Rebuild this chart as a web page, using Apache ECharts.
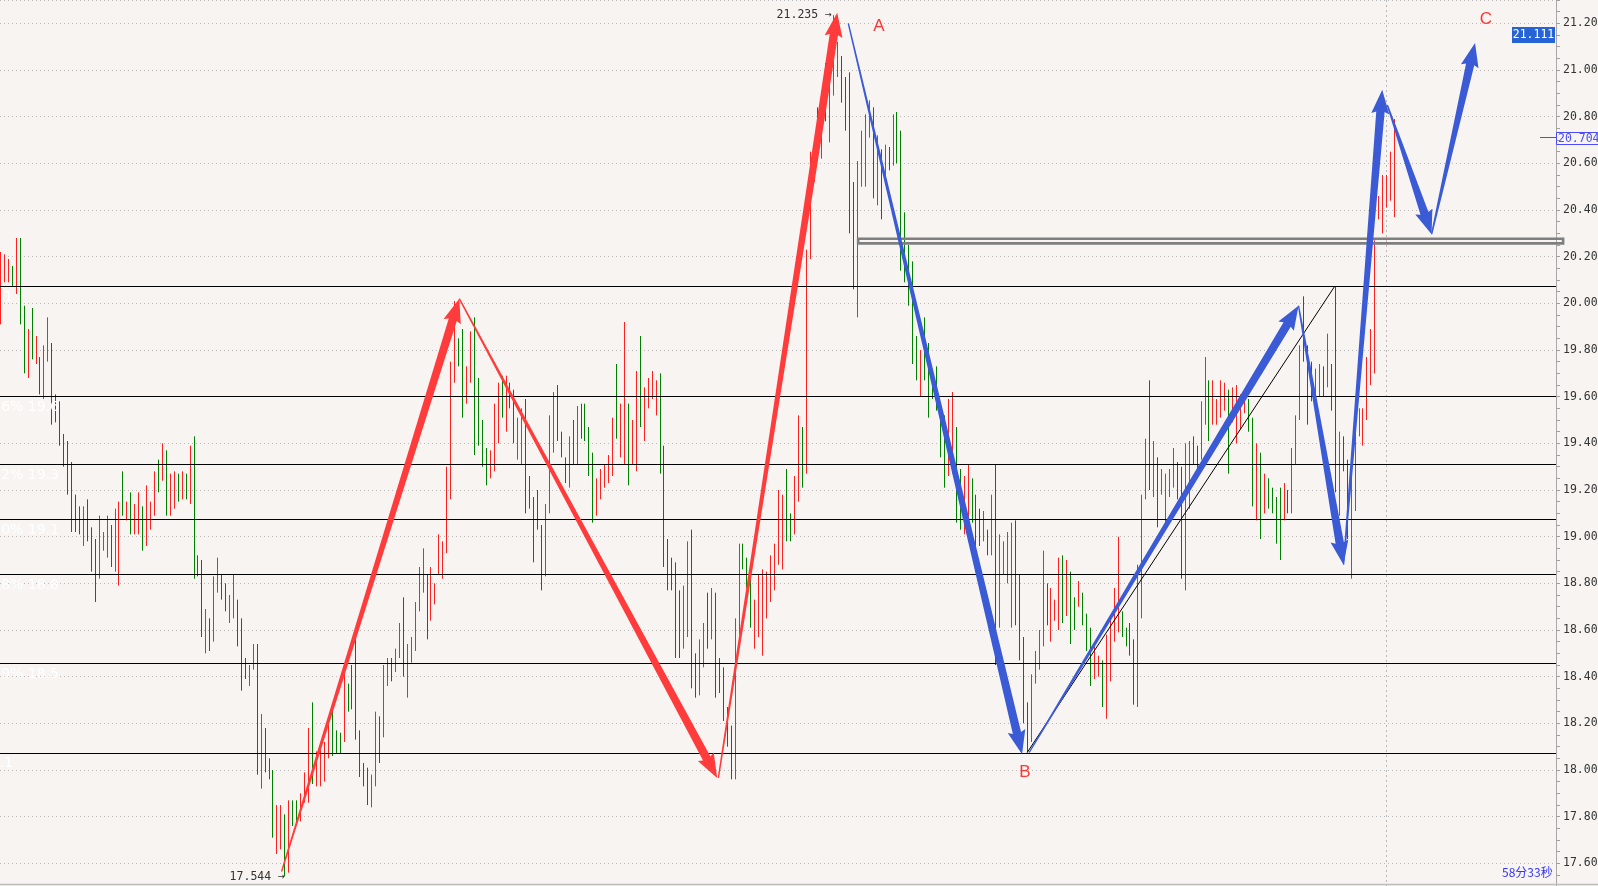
<!DOCTYPE html>
<html><head><meta charset="utf-8">
<script src="https://cdn.jsdelivr.net/npm/echarts@6/dist/echarts.min.js"></script>
<style>html,body{margin:0;padding:0;background:#f7f4f1;overflow:hidden}#c{width:1598px;height:886px}</style>
</head><body><div id="c"></div>
<script>
// ---- bar data (high / low / direction r=up red, g=down green), one bar per slot ----
const highs = [
20.22,20.21,20.19,20.16,20.28,20.28,19.99,19.89,19.98,19.86,
19.77,19.82,19.94,19.83,19.61,19.58,19.44,19.41,19.32,19.18,
19.13,19.13,19.16,19.04,18.99,19.09,19.02,19.09,19.05,19.12,
19.15,19.28,19.15,19.19,19.14,19.19,19.13,19.22,19.15,19.28,
19.33,19.40,19.37,19.27,19.28,19.27,19.28,19.27,19.39,19.43,
18.92,18.90,18.69,18.65,18.83,18.91,18.84,18.80,18.75,18.84,
18.73,18.65,18.48,18.45,18.54,18.54,18.24,18.18,18.05,18.00,
17.85,17.85,17.81,17.87,17.87,17.87,17.90,17.99,18.18,18.29,
18.08,18.09,18.12,18.20,18.26,18.17,18.16,18.45,18.37,18.45,
18.57,18.17,18.03,18.01,17.98,18.25,18.23,18.45,18.48,18.48,
18.52,18.63,18.74,18.54,18.57,18.72,18.87,18.95,18.84,18.87,
18.80,19.01,18.98,19.30,19.75,20.01,19.85,19.89,19.73,19.88,
19.94,19.68,19.50,19.38,19.37,19.57,19.66,19.69,19.69,19.66,
19.63,19.51,19.55,19.59,19.26,19.17,19.20,19.05,19.14,19.52,
19.62,19.65,19.45,19.34,19.43,19.50,19.56,19.57,19.57,19.47,
19.36,19.25,19.29,19.31,19.35,19.51,19.74,19.57,19.92,19.57,
19.50,19.71,19.86,19.64,19.68,19.71,19.67,19.70,19.39,18.99,
18.91,18.89,18.77,18.79,18.98,19.03,18.50,18.56,18.63,18.76,
18.78,18.76,18.48,18.44,18.27,18.19,18.65,18.97,18.97,18.91,
18.82,18.73,18.84,18.86,18.85,18.92,18.97,19.20,19.18,19.29,
19.10,19.26,19.52,19.47,20.23,20.65,20.71,20.84,20.91,21.03,
21.06,21.235,21.12,21.06,20.97,20.99,20.52,20.61,20.74,20.81,
20.87,20.84,20.72,20.66,20.68,20.67,20.81,20.82,20.74,20.39,
20.25,20.18,19.86,19.80,19.94,19.83,19.67,19.73,19.57,19.52,
19.59,19.62,19.47,19.29,19.26,19.31,19.25,19.18,19.12,19.11,
19.03,19.18,19.31,19.01,18.98,19.02,19.06,19.07,18.84,18.57,
18.29,18.41,18.51,18.60,18.94,18.80,18.78,18.73,18.91,18.92,
18.90,18.85,18.74,18.81,18.76,18.67,18.61,18.54,18.49,18.47,
18.58,18.65,18.78,19.00,18.68,18.61,18.63,18.56,18.88,19.18,
19.42,19.67,19.41,19.34,19.29,19.27,19.29,19.38,19.32,19.30,
19.40,19.41,19.43,19.39,19.58,19.77,19.67,19.67,19.59,19.67,
19.66,19.63,19.64,19.65,19.61,19.62,19.59,19.51,19.40,19.36,
19.27,19.25,19.21,19.17,19.21,19.23,19.20,19.38,19.52,19.82,
20.03,19.82,19.75,19.72,19.74,19.73,19.87,19.74,20.074,19.45,
19.43,19.33,19.28,19.48,19.55,19.55,19.77,19.89,20.27,20.46,
20.55,20.55,20.65,20.79];
const lows = [
19.91,20.09,20.09,20.07,20.04,19.91,19.70,19.68,19.76,19.74,
19.61,19.59,19.75,19.48,19.49,19.39,19.30,19.18,19.02,19.02,
19.01,18.96,18.98,18.85,18.72,18.82,18.94,18.91,18.87,18.85,
18.79,19.09,19.07,19.01,19.01,19.01,18.94,18.96,19.03,19.09,
19.19,19.24,19.09,19.09,19.12,19.15,19.16,19.16,19.14,18.82,
18.83,18.57,18.50,18.51,18.55,18.76,18.73,18.68,18.63,18.65,
18.53,18.34,18.39,18.36,18.43,17.98,17.92,17.99,17.96,17.71,
17.64,17.66,17.544,17.56,17.76,17.77,17.78,17.86,17.86,17.94,
17.93,17.93,17.95,18.05,18.06,18.07,18.07,18.12,18.25,18.26,
18.13,17.97,17.93,17.85,17.84,17.93,18.03,18.14,18.36,18.38,
18.42,18.48,18.40,18.31,18.46,18.51,18.68,18.76,18.56,18.64,
18.71,18.84,18.82,18.93,19.16,19.66,19.73,19.51,19.57,19.66,
19.35,19.39,19.30,19.22,19.25,19.28,19.40,19.51,19.45,19.55,
19.40,19.33,19.31,19.10,19.12,18.89,19.03,18.77,18.83,19.10,
19.36,19.41,19.34,19.23,19.21,19.31,19.31,19.42,19.41,19.26,
19.06,19.09,19.16,19.21,19.23,19.26,19.42,19.34,19.31,19.22,
19.31,19.28,19.47,19.41,19.55,19.59,19.52,19.27,18.87,18.77,
18.77,18.48,18.48,18.52,18.57,18.35,18.31,18.32,18.44,18.52,
18.56,18.31,18.33,18.21,18.10,17.96,17.96,18.58,18.86,18.78,
18.61,18.52,18.57,18.49,18.65,18.72,18.77,18.88,18.86,18.98,
18.98,19.01,19.15,19.21,19.27,20.19,20.52,20.62,20.62,20.78,
20.69,20.89,20.97,20.86,20.74,20.30,20.06,19.94,20.50,20.50,
20.71,20.45,20.42,20.36,20.51,20.57,20.59,20.60,20.14,20.09,
19.99,19.74,19.67,19.60,19.67,19.51,19.59,19.54,19.34,19.21,
19.26,19.27,19.06,19.03,19.01,19.01,19.06,18.85,18.96,18.98,
18.92,18.92,18.45,18.61,18.84,18.80,18.61,18.62,18.47,18.20,
18.075,18.12,18.37,18.43,18.53,18.62,18.55,18.64,18.60,18.63,
18.66,18.54,18.60,18.70,18.62,18.51,18.36,18.39,18.40,18.27,
18.22,18.38,18.55,18.59,18.57,18.53,18.49,18.28,18.27,18.65,
19.16,19.20,19.17,19.04,19.18,19.04,19.17,19.21,19.16,18.82,
18.77,19.12,19.31,19.27,19.33,19.48,19.41,19.48,19.48,19.51,
19.54,19.27,19.49,19.40,19.46,19.53,19.45,19.13,19.07,18.99,
19.10,19.12,19.10,18.97,18.90,19.07,19.10,19.10,19.31,19.50,
19.75,19.48,19.58,19.59,19.60,19.60,19.64,19.54,19.19,19.09,
19.28,18.99,18.82,19.11,19.43,19.39,19.50,19.65,19.70,20.36,
20.30,20.41,20.44,20.37];
const dirs = ('rrrgrggrgr'+'grrggggggg'+'grgggrrrgr'+'rgrgrrgrrr'+'grgrrgrgrg'+
  'ggrgrrggrr'+'gggrrgrggg'+'rrgrggrrrg'+'rrrrgggrgg'+'ggggrrgrrg'+
  'rrgrrrrrgr'+'rrrrrrggrr'+'ggggrrrgrg'+'grrgggggrr'+'rgggrgrggg'+
  'grrrrrgrrg'+'rrgrrrrggg'+'gggrrggrrg'+'rgggggrrgg'+'grrrrrrrrg'+
  'grrgrrrgrg'+'rrrggggrrr'+'rgrgrgrggg'+'gggrgggggg'+'rrggrrgggr'+
  'grgrrrrggg'+'grrrrgrrrg'+'rggrgggrrg'+'rrrrggggrr'+'rgrgrrrrgg'+
  'rrggrrgrrr'+'rgrrrrggrg'+'rggggrgrrr'+'gggrrgrggr'+'ggrrrrrrrr'+'rrrr').split('');

// ---- axis / levels ----
const yMin = 17.4, yMax = 21.3, yTickStep = 0.2;
const fibLevels = [20.074, 19.602, 19.31, 19.074, 18.838, 18.457, 18.075];
const fibLabels = ['0.0% 20.1','23.6% 19.6','38.2% 19.3','50.0% 19.1','61.8% 18.8','80.9% 18.5','100.0% 18.1'];

// ---- drawn annotations in data coords [x1, y1, x2, y2] (x = bar slot) ----
const redArrows = [[71.3,17.565,116.3,20.02],[116.3,20.02,181.6,17.966],[181.9,17.966,212.0,21.245]];
const blueArrows = [[214.8,21.20,258.8,18.067],[260.6,18.075,328.8,19.99],[328.8,19.99,340.2,18.88],
  [340.2,18.88,350.0,20.915],[351.3,20.85,362.5,20.296],[362.5,20.296,373.5,21.116]];
const fibTrend = [[260.1,18.075,338.0,20.074]];
const zoneBox = [[217.3,20.277,395.8,20.257]];
const cursorBar = [[351,20]];

const RED = '#ff2020', GREEN = '#008000';
const chart = echarts.init(document.getElementById('c'), null, {renderer:'canvas'});

function arrowItem(color){
  return function(params, api){
    const p1 = api.coord([api.value(0), api.value(1)]);
    const p2 = api.coord([api.value(2), api.value(3)]);
    const dx = p2[0]-p1[0], dy = p2[1]-p1[1], L = Math.hypot(dx,dy);
    const ux = dx/L, uy = dy/L, nx = -uy, ny = ux;
    const hl = 22, hw = 9, w0 = 0.7, w1 = 4.2;
    const bx = p2[0]-ux*hl, by = p2[1]-uy*hl;
    const pts = [
      [p1[0]+nx*w0, p1[1]+ny*w0],
      [bx+nx*w1, by+ny*w1],
      [bx-ux*2+nx*hw, by-uy*2+ny*hw],
      [p2[0], p2[1]],
      [bx-ux*2-nx*hw, by-uy*2-ny*hw],
      [bx-nx*w1, by-ny*w1],
      [p1[0]-nx*w0, p1[1]-ny*w0]
    ];
    return {type:'polygon', shape:{points:pts}, style:{fill:color}};
  };
}

const option = {
  backgroundColor:'#f7f4f1',
  animation:false,
  grid:{left:0, top:0, right:42, bottom:-24, containLabel:false, outerBoundsMode:'none'},
  xAxis:{type:'value', min:0, max:394, show:false},
  yAxis:{
    type:'value', position:'right', min:yMin, max:yMax, interval:yTickStep,
    axisLine:{show:true, onZero:false, lineStyle:{color:'#a8a8a8', width:1}},
    axisTick:{show:true, length:4, lineStyle:{color:'#a0a0a0'}},
    minorTick:{show:true, splitNumber:4, length:4, lineStyle:{color:'#a0a0a0'}},
    splitLine:{show:true, lineStyle:{color:'#b8b8b8', type:[1,3], width:1}},
    axisLabel:{show:true, margin:7, showMaxLabel:false, color:'#333',
      fontFamily:'DejaVu Sans Mono', fontSize:11.5, formatter:v=>v.toFixed(2)}
  },
  series:[
    { type:'custom', name:'bars', z:2, silent:true,
      data: highs.map((h,i)=>[i, h, lows[i], dirs[i]==='r'?1:0]),
      encode:{x:0, y:[1,2]},
      renderItem:(params, api)=>{
        const x = Math.round(api.coord([api.value(0), 20])[0]) + 0.5;
        const yH = api.coord([api.value(0), api.value(1)])[1];
        const yL = api.coord([api.value(0), api.value(2)])[1];
        return {type:'line', shape:{x1:x, y1:yH, x2:x, y2:yL},
          style:{stroke: api.value(3) ? RED : GREEN, lineWidth:1}};
      }
    },
    { type:'custom', name:'fib', z:3, silent:true,
      data: fibLevels.map(v=>[0, v]), encode:{x:0, y:1},
      renderItem:(params, api)=>{
        const cs = params.coordSys;
        const y = Math.round(api.coord([0, api.value(1)])[1]) + 0.5;
        return {type:'line', shape:{x1:cs.x, y1:y, x2:cs.x+cs.width, y2:y},
          style:{stroke:'#000', lineWidth:1.2}};
      }
    },
    { type:'custom', name:'cursor', z:1, silent:true,
      data: cursorBar, encode:{x:0, y:1},
      renderItem:(params, api)=>{
        const cs = params.coordSys;
        const x = Math.round(api.coord([api.value(0), api.value(1)])[0]) + 0.5;
        return {type:'line', shape:{x1:x, y1:cs.y, x2:x, y2:cs.y+cs.height},
          style:{stroke:'#b8b8b8', lineWidth:1, lineDash:[2,3]}};
      }
    },
    { type:'custom', name:'zone', z:4, silent:true, clip:false,
      data: zoneBox, encode:{x:[0,2], y:[1,3]},
      renderItem:(params, api)=>{
        const p1 = api.coord([api.value(0), api.value(1)]);
        const p2 = api.coord([api.value(2), api.value(3)]);
        return {type:'rect', shape:{x:p1[0], y:p1[1], width:p2[0]-p1[0], height:p2[1]-p1[1]},
          style:{fill:'none', stroke:'#7f7f7f', lineWidth:2.6}};
      }
    },
    { type:'custom', name:'trend', z:4, silent:true,
      data: fibTrend, encode:{x:[0,2], y:[1,3]},
      renderItem:(params, api)=>{
        const p1 = api.coord([api.value(0), api.value(1)]);
        const p2 = api.coord([api.value(2), api.value(3)]);
        return {type:'line', shape:{x1:p1[0], y1:p1[1], x2:p2[0], y2:p2[1]},
          style:{stroke:'#000', lineWidth:1}};
      }
    },
    { type:'custom', name:'redArrows', z:5, silent:true, clip:false,
      data: redArrows, encode:{x:[0,2], y:[1,3]}, renderItem: arrowItem('#ff3b3b') },
    { type:'custom', name:'blueArrows', z:5, silent:true, clip:false,
      data: blueArrows, encode:{x:[0,2], y:[1,3]}, renderItem: arrowItem('#3a5ad6') }
  ]
};
chart.setOption(option);

const py = v => chart.convertToPixel({yAxisIndex:0}, v);
const mono = 'DejaVu Sans Mono';
const g = [];
fibLevels.forEach((v,i)=>{
  const right = (i===0 || i===fibLevels.length-1) ? 13 : 59;
  g.push({type:'text', x:right, y:py(v)+11, z:10, silent:true,
    style:{text:fibLabels[i], fill:'#ffffff', font:'14px "DejaVu Sans"', textAlign:'right', textVerticalAlign:'middle'}});
});
g.push(
  {type:'text', x:832, y:15, z:10, style:{text:'21.235 →', fill:'#333', font:'11.5px "'+mono+'"', textAlign:'right', textVerticalAlign:'middle'}},
  {type:'text', x:285, y:877, z:10, style:{text:'17.544 →', fill:'#333', font:'11.5px "'+mono+'"', textAlign:'right', textVerticalAlign:'middle'}},
  {type:'text', x:879, y:26, z:10, style:{text:'A', fill:'#ff3535', font:'17px "Liberation Sans"', textAlign:'center', textVerticalAlign:'middle'}},
  {type:'text', x:1025, y:772, z:10, style:{text:'B', fill:'#ff3535', font:'17px "Liberation Sans"', textAlign:'center', textVerticalAlign:'middle'}},
  {type:'text', x:1486, y:19, z:10, style:{text:'C', fill:'#ff3535', font:'17px "Liberation Sans"', textAlign:'center', textVerticalAlign:'middle'}},
  {type:'text', x:1502, y:872, z:10, style:{text:'58分33秒', fill:'#3535ff', font:'12px "Noto Sans CJK SC"', textAlign:'left', textVerticalAlign:'middle'}},
  {type:'rect', z:10, shape:{x:1512, y:27, width:43, height:16}, style:{fill:'#2563d6'}},
  {type:'text', x:1533.5, y:35, z:11, style:{text:'21.111', fill:'#fff', font:'11.5px "'+mono+'"', textAlign:'center', textVerticalAlign:'middle'}},
  {type:'line', z:10, shape:{x1:1540, y1:137.5, x2:1556, y2:137.5}, style:{stroke:'#4b4bff', lineWidth:1}},
  {type:'rect', z:10, shape:{x:1556.5, y:132.5, width:45, height:12}, style:{fill:'none', stroke:'#4b4bff', lineWidth:1}},
  {type:'text', x:1558, y:139, z:11, style:{text:'20.704', fill:'#4b4bff', font:'11.5px "'+mono+'"', textAlign:'left', textVerticalAlign:'middle'}},
  {type:'line', z:10, shape:{x1:0, y1:884.5, x2:1598, y2:884.5}, style:{stroke:'#bdbdbd', lineWidth:1.5}}
);
chart.setOption({graphic:g});
</script>
</body></html>
